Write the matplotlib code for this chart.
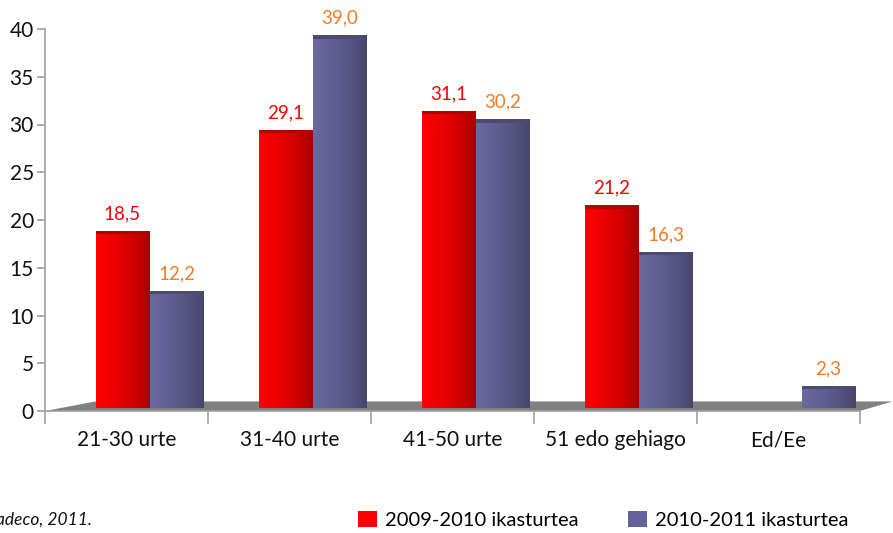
import matplotlib
matplotlib.use("Agg")
import matplotlib.pyplot as plt
import numpy as np
from matplotlib.patches import Polygon, Patch
from matplotlib.colors import LinearSegmentedColormap

plt.rcParams['font.family'] = ['Lato', 'DejaVu Sans']

categories = ['21-30 urte', '31-40 urte', '41-50 urte', '51 edo gehiago', 'Ed/Ee']
serie_2009 = [18.5, 29.1, 31.1, 21.2, 0.0]
serie_2010 = [12.2, 39.0, 30.2, 16.3, 2.3]
labels_2009 = ['18,5', '29,1', '31,1', '21,2', '']
labels_2010 = ['12,2', '39,0', '30,2', '16,3', '2,3']
legend_names = ['2009-2010 ikasturtea', '2010-2011 ikasturtea']

red_cmap = LinearSegmentedColormap.from_list('redbar', ['#ff0000', '#ec0000', '#d40000', '#a80000'])
blue_cmap = LinearSegmentedColormap.from_list('bluebar', ['#6a6aa0', '#606094', '#555582', '#46466c'])

fig = plt.figure(figsize=(8.93, 5.33), dpi=100)
ax = fig.add_axes([45/893, (533-411)/533, (860-45)/893, (411-29)/533])

x = np.arange(len(categories))
w = 0.33
base = 0.35  # 3D floor depth

ax.set_xlim(-0.5, len(categories) - 0.5)
ax.set_ylim(0, 40)

# floor
floor = Polygon([(-0.5, 0), (-0.19, 1.0), (4.70, 1.0), (4.5, 0)], closed=True,
                facecolor='#808080', edgecolor='none', zorder=1, clip_on=False)
ax.add_patch(floor)

grad = np.linspace(0, 1, 256).reshape(1, -1)

def draw_bars(xs, vals, cmap, labels, lcolor):
    bars = ax.bar(xs, vals, width=w, bottom=base, color='none', edgecolor='none', zorder=2)
    for b, v, lab in zip(bars, vals, labels):
        if v <= 0:
            continue
        x0 = b.get_x()
        x1 = x0 + b.get_width()
        im = ax.imshow(grad, cmap=cmap, aspect='auto', extent=[x0, x1, base, base + v],
                       zorder=2, interpolation='bilinear')
        im.set_clip_path(b)
        # dark top cap
        ax.fill_between([x0, x1], base + v - 0.35, base + v, color=cmap(0.9), zorder=3, lw=0)
        ax.text((x0 + x1) / 2, base + v + 1.8, lab, ha='center', va='center',
                color=lcolor, fontsize=13.5)

draw_bars(x - 0.025, serie_2009, red_cmap, labels_2009, '#ff0000')
draw_bars(x + 0.307, serie_2010, blue_cmap, labels_2010, '#f57a25')

ax.set_xlim(-0.5, len(categories) - 0.5)
ax.set_ylim(0, 40)

for s in ['top', 'right']:
    ax.spines[s].set_visible(False)
for s in ['left', 'bottom']:
    ax.spines[s].set_color('#a0a0a0')
    ax.spines[s].set_linewidth(1.2)
    ax.spines[s].set_zorder(4)

ax.set_yticks(np.arange(0, 41, 5))
ax.tick_params(axis='y', colors='#a0a0a0', length=6, width=1.2, labelcolor='#111111',
               labelsize=15, pad=2)
ax.set_xticks(x)
ax.set_xticklabels(categories)
ax.tick_params(axis='x', length=0, labelsize=15, labelcolor='#111111', pad=14)
ax.set_xticks(np.arange(-0.5, len(categories) + 0.5, 1), minor=True)
ax.tick_params(axis='x', which='minor', length=9, width=1.2, colors='#a0a0a0')

# source note, cut at the left edge as in the original
fig.text(-0.004, 0.025, 'adeco, 2011.', fontsize=12.5, style='italic', color='#111111',
         ha='left', va='center')

handles = [Patch(facecolor='#ff0000'), Patch(facecolor='#64649a')]
fig.legend(handles, legend_names, loc='center left', bbox_to_anchor=(393/893 - 0.05, 0.025),
           ncol=2, frameon=False, fontsize=14.5, handlelength=0.9, handleheight=0.9,
           handletextpad=0.4, columnspacing=2.5, borderpad=0)

fig.savefig('out.png', dpi=100)
